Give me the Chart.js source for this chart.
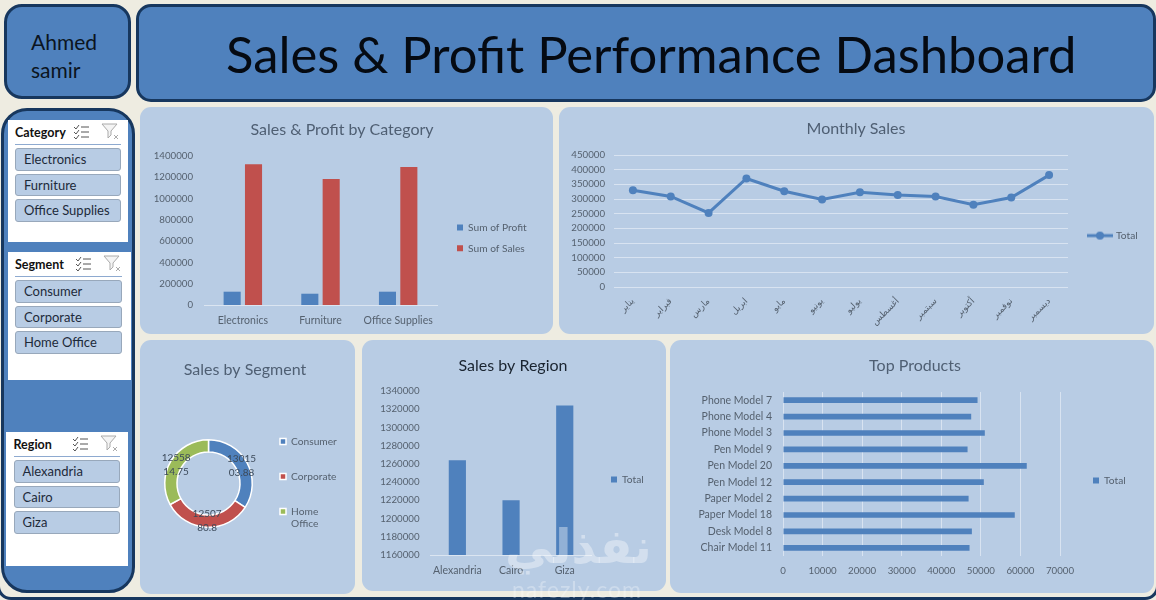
<!DOCTYPE html>
<html><head><meta charset="utf-8">
<script src="https://cdn.jsdelivr.net/npm/chart.js@4"></script>
<style>
html,body{margin:0;padding:0;width:1156px;height:600px;overflow:hidden;background:#eeece1;font-family:Lato,"DejaVu Sans",sans-serif}
.a{position:absolute;box-sizing:border-box}
.blue{background:#4f81bd;border:3px solid #17375e}
.panel{background:#b8cce4;border-radius:11px}
canvas{position:absolute;display:block}
.white{background:#fff}
.hd{font-weight:700;font-size:12.5px;color:#111;white-space:nowrap}
.line{height:1px;background:#8eaad0}
.btn{background:#b8cce4;border:1px solid #98a8bb;border-radius:3px;font-size:13px;color:#1d2a3a;padding-left:8px;display:flex;align-items:center;white-space:nowrap}
</style></head><body>
<div class="a" style="left:-3px;top:560px;width:1162px;height:40px;border:3px solid #17375e;border-top:none;border-radius:0 0 14px 14px"></div>
<div class="a blue" style="left:4px;top:4px;width:127px;height:95px;border-radius:18px;color:#0b1420;font-size:21px;line-height:28px;padding:21px 0 0 24px">Ahmed<br>samir</div>
<div class="a blue" style="left:136px;top:4px;width:1020px;height:98px;border-radius:15px"></div>
<div class="a" id="bigTitle" style="left:226px;top:18px;font-size:50.75px;line-height:72px;color:#050a12;white-space:nowrap">Sales &amp; Profit Performance Dashboard</div>
<div class="a blue" style="left:1px;top:108px;width:134px;height:485px;border-radius:26px"></div>
<div id="slicers"></div>
<div class="a panel" style="left:140px;top:107px;width:413px;height:227px"><canvas id="c1" width="413" height="227"></canvas></div>
<div class="a panel" style="left:559px;top:107px;width:595px;height:227px"><canvas id="c2" width="595" height="227"></canvas></div>
<div class="a panel" style="left:140px;top:340px;width:215px;height:254px"><canvas id="c3" width="215" height="254"></canvas></div>
<div class="a panel" style="left:362px;top:340px;width:304px;height:251px"><canvas id="c4" width="304" height="251"></canvas></div>
<div class="a panel" style="left:670px;top:340px;width:484px;height:253px"><canvas id="c5" width="484" height="253"></canvas></div>
<div class="a" style="left:505px;top:516px;font-size:48px;line-height:60px;font-weight:700;color:rgba(255,255,255,.38);font-family:'DejaVu Sans';white-space:nowrap">نفذلي</div>
<div class="a" style="left:512px;top:577px;font-size:23px;line-height:24px;letter-spacing:1px;color:rgba(255,255,255,.3);white-space:nowrap">nafezly.com</div>
<script>
const categories = ['Electronics','Furniture','Office Supplies'];
const profitValues = [125000,106000,125000];
const salesValues = [1322000,1184000,1297000];
const months = ['يناير','فبراير','مارس','ابريل','مايو','يونيو','يوليو','أغسطس','سبتمبر','أكتوبر','نوفمبر','ديسمبر'];
const monthlySales = [330000,308600,252500,370000,326500,298500,323000,314000,308600,280500,305000,381500];
const segments = ['Consumer','Corporate',['Home','Office']];
const segmentSales = [1301503.88,1250780.8,1255814.75];
const regions = ['Alexandria','Cairo','Giza'];
const regionSales = [1264000,1220000,1324000];
const products = ['Phone Model 7','Phone Model 4','Phone Model 3','Pen Model 9','Pen Model 20','Pen Model 12','Paper Model 2','Paper Model 18','Desk Model 8','Chair Model 11'];
const productSales = [49160,47560,51000,46640,61600,50750,46900,58570,47730,47140];
const slicerCategory = ['Electronics','Furniture','Office Supplies'];
const slicerSegment = ['Consumer','Corporate','Home Office'];
const slicerRegion = ['Alexandria','Cairo','Giza'];

const FONT = 'Lato, "DejaVu Sans", sans-serif';
const BLUE='#4f81bd', RED='#c0504d', GREEN='#9bbb59', TXT='#55616f', GRID='rgba(235,241,248,.62)', AXIS='#dbe5f1';
const TICK={family:FONT,size:10.5};
const NUM={family:FONT,size:9.7};

/* slicers */
const icons=(x,y)=>`<svg class="a" style="left:${x}px;top:${y}px" width="50" height="18" viewBox="0 0 50 18" fill="none">
<path d="M1 4l2 2 3-4M1 9l2 2 3-4M1 14l2 2 3-4" stroke="#555" stroke-width="1"/><path d="M8 4h8M8 9h8M8 14h8" stroke="#555" stroke-width="1"/>
<path d="M29 1h15l-6 7v4l-3 3V8z" stroke="#aaa" stroke-width="1" fill="#f4f4f4"/><path d="M41 12l4 4M45 12l-4 4" stroke="#aaa" stroke-width="1"/></svg>`;
function slicer(s){
  let h=`<div class="a white" style="left:${s.x}px;top:${s.y}px;width:${s.w}px;height:${s.h}px"></div>`;
  h+=`<div class="a hd" style="left:${s.bx}px;top:${s.y+4}px;line-height:17px">${s.name}</div>`;
  h+=icons(s.ix,s.y+3);
  h+=`<div class="a line" style="left:${s.bx}px;top:${s.y+24}px;width:${s.bw}px"></div>`;
  s.items.forEach((t,i)=>{h+=`<div class="a btn" style="left:${s.bx}px;top:${s.y+28+i*25.6}px;width:${s.bw}px;height:22.5px">${t}</div>`});
  return h;
}
document.getElementById('slicers').innerHTML=
 slicer({x:8,y:120,w:120,h:122,bx:15,bw:106,ix:73,name:'Category',items:slicerCategory})+
 slicer({x:8,y:252,w:123,h:128,bx:15,bw:107,ix:75,name:'Segment',items:slicerSegment})+
 slicer({x:6,y:432,w:122,h:134,bx:13.5,bw:106,ix:72,name:'Region',items:slicerRegion});

/* legend key for the line chart: a line through a dot */
function lineKey(){
  const k=document.createElement('canvas');k.width=26;k.height=10;
  const g=k.getContext('2d');g.fillStyle=BLUE;g.fillRect(0,3.5,26,3);
  g.beginPath();g.arc(13,5,4,0,Math.PI*2);g.fill();
  return k;
}

/* moves title and legend to their spots once the layout is finished */
const place={id:'place',beforeDraw(chart,args,o){
  const t=chart.titleBlock,l=chart.legend;
  if(t){const h=t.bottom-t.top;t.left=o.titleX-chart.width;t.right=o.titleX+chart.width;t.top=o.titleY-h/2;t.bottom=o.titleY+h/2;}
  if(l&&o.legendX!==undefined){
    l.update(300,400,{left:0,right:0,top:0,bottom:0});
    const p=l.options.labels.padding,w=l.width,h=l.height;
    l.left=o.legendX-p;l.right=l.left+w;l.top=o.legendY-5.5-p;l.bottom=l.top+h;}
}};
Chart.register(place);

function base(cfg){
  const sz=16;
  return {
    responsive:false,animation:false,maintainAspectRatio:false,
    layout:{padding:{top:cfg.top-sz*1.2,left:cfg.padLeft||0,right:cfg.W-cfg.right,bottom:cfg.padBottom||0}},
    plugins:{
      title:{display:true,text:cfg.title,color:cfg.titleColor||'#4f5f73',padding:0,font:{family:FONT,size:sz,weight:'normal'}},
      legend:{display:true,position:'chartArea',align:'start',
        labels:Object.assign({boxWidth:6,boxHeight:6,padding:cfg.legendPad||10.5,color:TXT,font:{family:FONT,size:10.2}},cfg.legendLabels||{})},
      tooltip:{enabled:false},
      place:{titleX:cfg.titleX,titleY:cfg.titleY,legendX:cfg.legendX,legendY:cfg.legendY}
    }
  };
}
const fitW=w=>s=>{s.width=w};
const fitH=h=>s=>{s.height=h};
const plain=v=>String(v);

/* Sales & Profit by Category */
new Chart('c1',{type:'bar',
  data:{labels:categories,datasets:[
    {label:'Sum of Profit',data:profitValues,backgroundColor:BLUE,categoryPercentage:.55,barPercentage:.8},
    {label:'Sum of Sales',data:salesValues,backgroundColor:RED,categoryPercentage:.55,barPercentage:.8}]},
  options:Object.assign(base({W:413,top:49,right:297,title:'Sales & Profit by Category',titleX:202,titleY:23,legendX:317,legendY:121}),{
    scales:{
      x:{afterFit:fitH(29),grid:{display:false,drawTicks:false},border:{color:AXIS},ticks:{color:TXT,font:TICK,padding:9,maxRotation:0,autoSkip:false}},
      y:{afterFit:fitW(64),min:0,max:1400000,grid:{display:false,drawTicks:false},border:{display:false},ticks:{stepSize:200000,color:TXT,font:NUM,padding:11,autoSkip:false,callback:plain}}
    }})});

/* Monthly Sales */
new Chart('c2',{type:'line',
  data:{labels:months,datasets:[{label:'Total',data:monthlySales,borderColor:BLUE,backgroundColor:BLUE,borderWidth:3,tension:0,pointRadius:4,pointBackgroundColor:BLUE,pointBorderWidth:0}]},
  options:Object.assign(base({W:595,top:48,right:509,title:'Monthly Sales',titleX:297,titleY:22,legendX:530,legendY:129,
      legendLabels:{usePointStyle:true,pointStyle:lineKey(),pointStyleWidth:22}}),{
    scales:{
      x:{offset:true,afterFit:fitH(47),grid:{display:false,drawTicks:false},border:{display:false},ticks:{color:TXT,font:{family:'"DejaVu Sans"',size:9},padding:9,minRotation:45,maxRotation:45,autoSkip:false}},
      y:{afterFit:fitW(55),min:0,max:450000,grid:{color:GRID,drawTicks:false},border:{display:false},ticks:{stepSize:50000,color:TXT,font:NUM,padding:9,autoSkip:false,callback:plain}}
    }})});

/* Sales by Segment */
const ringLabels={id:'ringLabels',afterDatasetsDraw(chart){
  const c=chart.ctx,meta=chart.getDatasetMeta(0),vals=chart.data.datasets[0].data;
  c.save();c.fillStyle='#3c4a5a';c.font='10px '+FONT;c.textAlign='center';c.textBaseline='middle';
  meta.data.forEach((arc,i)=>{const p=arc.tooltipPosition(),s=String(vals[i]);
    c.fillText(s.slice(0,5),p.x,p.y-7);c.fillText(s.slice(5),p.x,p.y+7);});
  c.restore();
}};
new Chart('c3',{type:'doughnut',plugins:[ringLabels],
  data:{labels:segments,datasets:[{data:segmentSales,backgroundColor:[BLUE,RED,GREEN],borderColor:'#fff',borderWidth:1.5}]},
  options:Object.assign(base({W:215,top:99,right:113,padLeft:24,padBottom:66,title:'Sales by Segment',titleX:105,titleY:30,legendX:140,legendY:102,legendPad:24.8}),{
    cutout:'72%',rotation:0})});

/* Sales by Region */
new Chart('c4',{type:'bar',
  data:{labels:regions,datasets:[{label:'Total',data:regionSales,backgroundColor:BLUE,categoryPercentage:1,barPercentage:.32}]},
  options:Object.assign(base({W:304,top:51,right:229.6,title:'Sales by Region',titleColor:'#1a2430',titleX:151,titleY:25.5,legendX:249,legendY:140}),{
    scales:{
      x:{afterFit:fitH(36),grid:{display:false,drawTicks:false},border:{color:AXIS},ticks:{color:TXT,font:TICK,padding:9,maxRotation:0,autoSkip:false}},
      y:{afterFit:fitW(68.5),min:1160000,max:1340000,grid:{display:false,drawTicks:false},border:{display:false},ticks:{stepSize:20000,color:TXT,font:NUM,padding:11,autoSkip:false,callback:plain}}
    }})});

/* Top Products */
new Chart('c5',{type:'bar',
  data:{labels:products,datasets:[{label:'Total',data:productSales,backgroundColor:BLUE,categoryPercentage:1,barPercentage:.35}]},
  options:Object.assign(base({W:484,top:52,right:390,title:'Top Products',titleX:245,titleY:26,legendX:423,legendY:141}),{
    indexAxis:'y',
    scales:{
      x:{afterFit:fitH(37),min:0,max:70000,grid:{color:GRID,drawTicks:false},border:{display:false},ticks:{stepSize:10000,color:TXT,font:NUM,padding:9,maxRotation:0,autoSkip:false,callback:plain}},
      y:{afterFit:fitW(113),grid:{display:false,drawTicks:false},border:{display:false},ticks:{color:TXT,font:TICK,padding:11,autoSkip:false}}
    }})});
</script>
</body></html>
